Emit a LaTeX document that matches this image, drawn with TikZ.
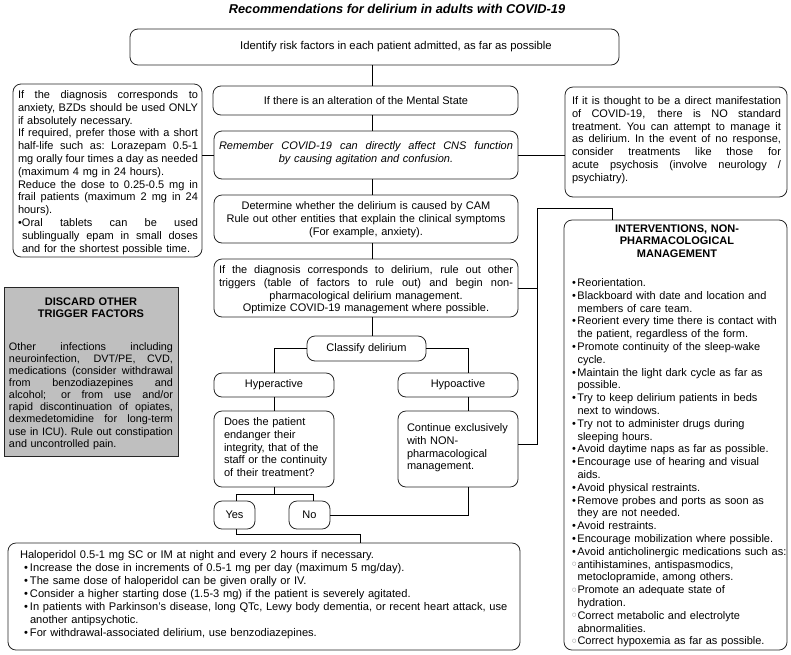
\documentclass[tikz,border=0pt]{standalone}
\usepackage{fontspec}
\setmainfont{Liberation Sans}
\newfontfamily\dejavu{DejaVu Sans}
\usetikzlibrary{fit}
\newcommand\fs{\fontsize{11}{12.8}\selectfont}
\newcommand\jsp{\spaceskip=.278em plus 1fil minus .1em\xspaceskip=.278em plus 1fil minus .1em\relax}
\newcommand\J[1]{\makebox[\linewidth][s]{\jsp #1}}
\newcommand\JI[2]{\hspace*{#1}\makebox[\dimexpr\linewidth-#1\relax][s]{\jsp #2}}
\newcommand\C[1]{\makebox[\linewidth][c]{#1}}
\newlength\bw \setlength\bw{5.5pt}
\newcommand\bul{\makebox[\bw][l]{•}}
\newcommand\ind{\hspace*{\bw}}
\newcommand\sbul{\makebox[5.5pt][l]{\raisebox{0.45ex}{\dejavu\fontsize{5}{5}\selectfont\color{black!60}○}}}
\begin{document}
\begin{tikzpicture}[x=1pt,y=-1pt,
  every node/.style={inner sep=0pt, outer sep=0pt},
  rbox/.style={draw=black!85, line width=0.8pt, rounded corners=8pt},
  gbox/.style={draw=black!85, line width=0.8pt, fill=black!25},
  conn/.style={draw=black, line width=0.8pt},
  tx/.style={font=\fs, anchor=north west, text width=#1},
  ct/.style={font=\fs, anchor=center}]
\useasboundingbox (0,0) rectangle (791,654);

% column coordinates
\coordinate (xm) at (372,0);
\coordinate (xl) at (274,0);
\coordinate (xr) at (468,0);
\coordinate (xb) at (537,0);
\coordinate (xi) at (612,0);
\coordinate (xy) at (236,0);
\coordinate (xn) at (313,0);
\coordinate (xh) at (360,0);
\coordinate (yn) at (0,494);
\coordinate (yb) at (0,534);
\coordinate (ycn) at (0,444);
\coordinate (yt) at (0,208);

% title
\node[font=\fontsize{12.8}{14}\selectfont\bfseries\itshape] (title) at (397,9) {Recommendations for delirium in adults with COVID-19};

% boxes
\node[rbox, fit={(130,29)(619,65)}] (top) {};
\node[rbox, fit={(213,86)(518,115)}] (alter) {};
\node[rbox, fit={(214,131)(518,179)}] (rem) {};
\node[rbox, fit={(214,195)(518,243)}] (det) {};
\node[rbox, fit={(214,259)(518,317)}] (ifd) {};
\node[rbox, fit={(307,336)(426,361)}] (cls) {};
\node[rbox, fit={(214,373)(334,397)}] (hyp) {};
\node[rbox, fit={(398,373)(518,397)}] (hypo) {};
\node[rbox, fit={(214,411)(334,487)}] (does) {};
\node[rbox, fit={(398,411)(518,487)}] (cont) {};
\node[rbox, fit={(214,501)(255,529)}] (yes) {};
\node[rbox, fit={(289,501)(330,529)}] (no) {};
\node[rbox, fit={(8,543)(520,650)}] (bot) {};
\node[rbox, fit={(13,84)(202,257)}] (bzd) {};
\node[gbox, fit={(4,287)(178,456)}] (grey) {};
\node[rbox, fit={(565,87)(787,197)}] (dir) {};
\node[rbox, fit={(564,220)(787,650)}] (int) {};

% texts
\node[ct, font=\fontsize{11.3}{13}\selectfont] (toptx) at (396,47) {Identify risk factors in each patient admitted, as far as possible};
\node[ct] (altertx) at (366,100.5) {If there is an alteration of the Mental State};
\node[tx=294pt, font=\fs\itshape] (remtx) at (219,141.5) {%
\J{Remember COVID-19 can directly affect CNS function}\\
\C{by causing agitation and confusion.}};
\node[tx=294pt] (dettx) at (219,201.5) {%
\C{Determine whether the delirium is caused by CAM}\\
\C{Rule out other entities that explain the clinical symptoms}\\
\C{(For example, anxiety).}};
\node[tx=294pt] (ifdtx) at (219,265.5) {%
\J{If the diagnosis corresponds to delirium, rule out other}\\
\J{triggers (table of factors to rule out) and begin non-}\\
\C{pharmacological delirium management.}\\
\C{Optimize COVID-19 management where possible.}};
\node[ct] (clstx) at (366.5,348.5) {Classify delirium};
\node[ct] (hyptx) at (274,385) {Hyperactive};
\node[ct] (hypotx) at (458,385) {Hypoactive};
\node[tx=110pt] (doestx) at (224,417.5) {%
Does the patient\\
endanger their\\
integrity, that of the\\
staff or the continuity\\
of their treatment?};
\node[tx=110pt] (conttx) at (407,423.5) {%
Continue exclusively\\
with NON-\\
pharmacological\\
management.};
\node[ct] (yestx) at (234.5,515) {Yes};
\node[ct] (notx) at (309.5,515) {No};

\node[tx=495pt, font=\fontsize{11.1}{13}\selectfont] (bottx) at (20,550.5) {%
Haloperidol 0.5-1 mg SC or IM at night and every 2 hours if necessary.\\
\hspace*{4pt}\makebox[6pt][l]{•}Increase the dose in increments of 0.5-1 mg per day (maximum 5 mg/day).\\
\hspace*{4pt}\makebox[6pt][l]{•}The same dose of haloperidol can be given orally or IV.\\
\hspace*{4pt}\makebox[6pt][l]{•}Consider a higher starting dose (1.5-3 mg) if the patient is severely agitated.\\
\hspace*{4pt}\makebox[6pt][l]{•}In patients with Parkinson’s disease, long QTc, Lewy body dementia, or recent heart attack, use\\
\hspace*{10pt}another antipsychotic.\\
\hspace*{4pt}\makebox[6pt][l]{•}For withdrawal-associated delirium, use benzodiazepines.};

\node[tx=180pt] (bzdtx) at (18,90.5) {%
\J{If the diagnosis corresponds to}\\
\J{anxiety, BZDs should be used ONLY}\\
if absolutely necessary.\\
\J{If required, prefer those with a short}\\
\J{half-life such as: Lorazepam 0.5-1}\\
\J{mg orally four times a day as needed}\\
(maximum 4 mg in 24 hours).\\
\J{Reduce the dose to 0.25-0.5 mg in}\\
\J{frail patients (maximum 2 mg in 24}\\
hours).\\
\J{\makebox[4pt][l]{•}Oral tablets can be used}\\
\JI{4pt}{sublingually epam in small doses}\\
\hspace*{4pt}and for the shortest possible time.};

\node[tx=164pt, font=\fs\bfseries] (greyhd) at (9,297.5) {\C{DISCARD OTHER}\\\C{TRIGGER FACTORS}};
\node[tx=164pt, font=\fontsize{10.8}{12.1}\selectfont] (greytx) at (9,342.5) {%
\J{Other infections including}\\
\J{neuroinfection, DVT/PE, CVD,}\\
\J{medications (consider withdrawal}\\
\J{from benzodiazepines and}\\
\J{alcohol; or from use and/or}\\
\J{rapid discontinuation of opiates,}\\
\J{dexmedetomidine for long-term}\\
\J{use in ICU). Rule out constipation}\\
and uncontrolled pain.};

\node[tx=209pt] (dirtx) at (572,96.5) {%
\J{If it is thought to be a direct manifestation}\\
\J{of COVID-19, there is NO standard}\\
\J{treatment. You can attempt to manage it}\\
\J{as delirium. In the event of no response,}\\
\J{consider treatments like those for}\\
\J{acute psychosis (involve neurology /}\\
psychiatry).};

\node[tx=210pt, font=\fs\bfseries] (inthd) at (572,224.5) {\C{INTERVENTIONS, NON-}\\\C{PHARMACOLOGICAL}\\\C{MANAGEMENT}};
\node[tx=222pt] (inttx) at (572,278.5) {%
\bul Reorientation.\\
\bul Blackboard with date and location and\\
\ind members of care team.\\
\bul Reorient every time there is contact with\\
\ind the patient, regardless of the form.\\
\bul Promote continuity of the sleep-wake\\
\ind cycle.\\
\bul Maintain the light dark cycle as far as\\
\ind possible.\\
\bul Try to keep delirium patients in beds\\
\ind next to windows.\\
\bul Try not to administer drugs during\\
\ind sleeping hours.\\
\bul Avoid daytime naps as far as possible.\\
\bul Encourage use of hearing and visual\\
\ind aids.\\
\bul Avoid physical restraints.\\
\bul Remove probes and ports as soon as\\
\ind they are not needed.\\
\bul Avoid restraints.\\
\bul Encourage mobilization where possible.\\
\bul Avoid anticholinergic medications such as:\\
\sbul antihistamines, antispasmodics,\\
\ind metoclopramide, among others.\\
\sbul Promote an adequate state of\\
\ind hydration.\\
\sbul Correct metabolic and electrolyte\\
\ind abnormalities.\\
\sbul Correct hypoxemia as far as possible.};

% connectors
\draw[conn] (top.south -| xm) -- (alter.north -| xm);
\draw[conn] (alter.south -| xm) -- (rem.north -| xm);
\draw[conn] (rem.south -| xm) -- (det.north -| xm);
\draw[conn] (det.south -| xm) -- (ifd.north -| xm);
\draw[conn] (ifd.south -| xm) -- (cls.north -| xm);
\draw[conn] (bzd.east |- rem.west) -- (rem.west);
\draw[conn] (rem.east) -- (dir.west |- rem.east);
\draw[conn] (cls.west) -| (hyp.north);
\draw[conn] (cls.east) -| (hypo.north -| xr);
\draw[conn] (hyp.south) -- (does.north);
\draw[conn] (hypo.south -| xr) -- (cont.north -| xr);
\draw[conn] (does.south) -- (does.south |- yn);
\draw[conn] (yes.north -| xy) -- (xy |- yn) -- (xn |- yn) -- (no.north -| xn);
\draw[conn] (cont.south -| xr) |- (no.east);
\draw[conn] (yes.south -| xy) -- (xy |- yb) -- (xh |- yb) -- (bot.north -| xh);
\draw[conn] (ifd.east) -- (ifd.east -| xb);
\draw[conn] (cont.east |- ycn) -- (xb |- ycn) -- (xb |- yt) -- (xi |- yt) -- (int.north -| xi);
\end{tikzpicture}
\end{document}
